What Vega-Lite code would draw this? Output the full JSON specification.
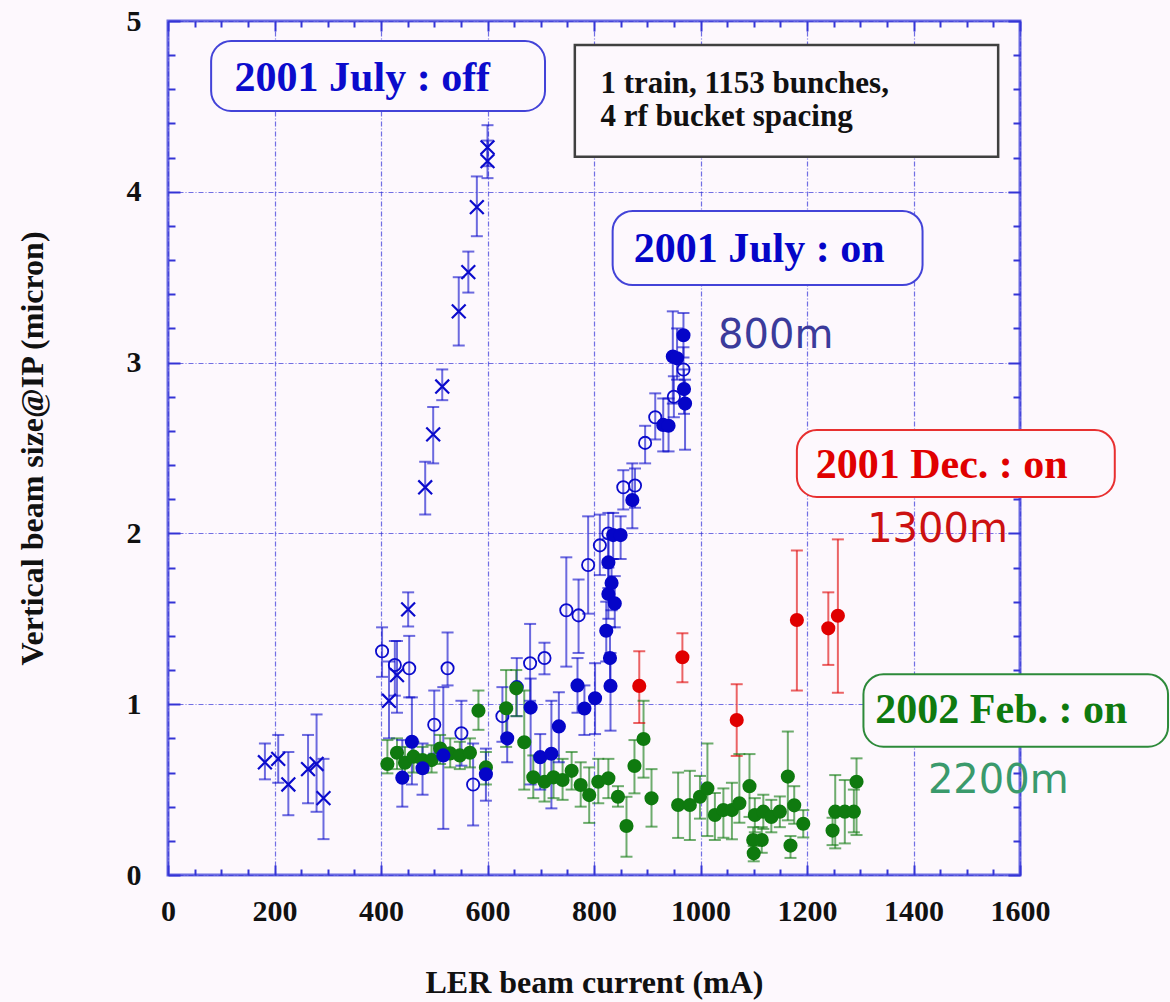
{
  "$schema": "https://vega.github.io/schema/vega-lite/v6.json",
  "width": 852,
  "height": 854,
  "autosize": "none",
  "padding": {"left": 168, "top": 21, "right": 150, "bottom": 127},
  "background": "#fdf8fd",
  "config": {
    "view": {"stroke": "#6b6be2", "strokeWidth": 3},
    "axis": {
      "domain": false,
      "grid": false,
      "labelFont": "Liberation Serif",
      "labelFontWeight": "bold",
      "labelFontSize": 30,
      "labelColor": "#111111",
      "titleFont": "Liberation Serif",
      "titleFontWeight": "bold",
      "titleFontSize": 32,
      "titleColor": "#111111",
      "tickColor": "#3434d6",
      "tickWidth": 2
    }
  },
  "datasets": {
    "pts": [
      {"set": "off", "I": 182, "s": 0.66, "lo": 0.56, "hi": 0.77},
      {"set": "off", "I": 207, "s": 0.68, "lo": 0.54, "hi": 0.82},
      {"set": "off", "I": 226, "s": 0.53, "lo": 0.35, "hi": 0.72},
      {"set": "off", "I": 263, "s": 0.62, "lo": 0.42, "hi": 0.82},
      {"set": "off", "I": 279, "s": 0.65, "lo": 0.37, "hi": 0.94},
      {"set": "off", "I": 292, "s": 0.45, "lo": 0.21, "hi": 0.68},
      {"set": "off", "I": 415, "s": 1.02, "lo": 0.80, "hi": 1.25},
      {"set": "off", "I": 430, "s": 1.17, "lo": 0.95, "hi": 1.37},
      {"set": "off", "I": 451, "s": 1.555, "lo": 1.455, "hi": 1.655},
      {"set": "off", "I": 483, "s": 2.27, "lo": 2.11, "hi": 2.42},
      {"set": "off", "I": 498, "s": 2.58, "lo": 2.41, "hi": 2.74},
      {"set": "off", "I": 515, "s": 2.86, "lo": 2.78, "hi": 2.96},
      {"set": "off", "I": 546, "s": 3.30, "lo": 3.10, "hi": 3.50},
      {"set": "off", "I": 564, "s": 3.53, "lo": 3.41, "hi": 3.65},
      {"set": "off", "I": 580, "s": 3.91, "lo": 3.74, "hi": 4.09},
      {"set": "off", "I": 600, "s": 4.26, "lo": 4.15, "hi": 4.39},
      {"set": "off", "I": 600, "s": 4.18, "lo": 4.08, "hi": 4.30},

      {"set": "open", "I": 402, "s": 1.31, "lo": 1.16, "hi": 1.45},
      {"set": "open", "I": 426, "s": 1.23, "lo": 1.05, "hi": 1.37},
      {"set": "open", "I": 453, "s": 1.21, "lo": 1.04, "hi": 1.40},
      {"set": "open", "I": 500, "s": 0.88, "lo": 0.71, "hi": 1.08},
      {"set": "open", "I": 525, "s": 1.21, "lo": 1.11, "hi": 1.42},
      {"set": "open", "I": 551, "s": 0.83, "lo": 0.64, "hi": 1.02},
      {"set": "open", "I": 573, "s": 0.53, "lo": 0.29, "hi": 0.77},
      {"set": "open", "I": 628, "s": 0.93, "lo": 0.78, "hi": 1.10},
      {"set": "open", "I": 655, "s": 1.10, "lo": 0.93, "hi": 1.27},
      {"set": "open", "I": 680, "s": 1.24, "lo": 1.02, "hi": 1.47},
      {"set": "open", "I": 707, "s": 1.27, "lo": 1.175, "hi": 1.36},
      {"set": "open", "I": 748, "s": 1.55, "lo": 1.22, "hi": 1.86},
      {"set": "open", "I": 771, "s": 1.52, "lo": 1.30, "hi": 1.73},
      {"set": "open", "I": 789, "s": 1.815, "lo": 1.53, "hi": 2.10},
      {"set": "open", "I": 811, "s": 1.93, "lo": 1.756, "hi": 2.11},
      {"set": "open", "I": 827, "s": 2.0, "lo": 1.85, "hi": 2.12},
      {"set": "open", "I": 855, "s": 2.27, "lo": 2.14, "hi": 2.37},
      {"set": "open", "I": 877, "s": 2.28, "lo": 2.15, "hi": 2.38},
      {"set": "open", "I": 896, "s": 2.53, "lo": 2.41, "hi": 2.63},
      {"set": "open", "I": 915, "s": 2.68, "lo": 2.55, "hi": 2.82},
      {"set": "open", "I": 950, "s": 2.80, "lo": 2.68, "hi": 2.92},
      {"set": "open", "I": 968, "s": 2.96, "lo": 2.83, "hi": 3.09},

      {"set": "feb", "I": 412, "s": 0.65, "lo": 0.595, "hi": 0.79},
      {"set": "feb", "I": 430, "s": 0.716, "lo": 0.62, "hi": 0.80},
      {"set": "feb", "I": 445, "s": 0.657, "lo": 0.58, "hi": 0.75},
      {"set": "feb", "I": 461, "s": 0.693, "lo": 0.60, "hi": 0.78},
      {"set": "feb", "I": 478, "s": 0.673, "lo": 0.60, "hi": 0.75},
      {"set": "feb", "I": 495, "s": 0.673, "lo": 0.60, "hi": 0.76},
      {"set": "feb", "I": 511, "s": 0.74, "lo": 0.65, "hi": 0.82},
      {"set": "feb", "I": 530, "s": 0.712, "lo": 0.63, "hi": 0.80},
      {"set": "feb", "I": 548, "s": 0.70, "lo": 0.62, "hi": 0.78},
      {"set": "feb", "I": 567, "s": 0.716, "lo": 0.63, "hi": 0.80},
      {"set": "feb", "I": 583, "s": 0.962, "lo": 0.85, "hi": 1.08},
      {"set": "feb", "I": 597, "s": 0.63, "lo": 0.53, "hi": 0.72},
      {"set": "feb", "I": 635, "s": 0.976, "lo": 0.75, "hi": 1.20},
      {"set": "feb", "I": 654, "s": 1.093, "lo": 0.93, "hi": 1.20},
      {"set": "feb", "I": 669, "s": 0.777, "lo": 0.50, "hi": 1.08},
      {"set": "feb", "I": 686, "s": 0.572, "lo": 0.45, "hi": 0.70},
      {"set": "feb", "I": 707, "s": 0.546, "lo": 0.43, "hi": 0.68},
      {"set": "feb", "I": 724, "s": 0.572, "lo": 0.45, "hi": 0.70},
      {"set": "feb", "I": 741, "s": 0.556, "lo": 0.44, "hi": 0.68},
      {"set": "feb", "I": 758, "s": 0.61, "lo": 0.50, "hi": 0.72},
      {"set": "feb", "I": 775, "s": 0.527, "lo": 0.40, "hi": 0.66},
      {"set": "feb", "I": 791, "s": 0.468, "lo": 0.305, "hi": 0.63},
      {"set": "feb", "I": 808, "s": 0.546, "lo": 0.42, "hi": 0.68},
      {"set": "feb", "I": 827, "s": 0.566, "lo": 0.45, "hi": 0.68},
      {"set": "feb", "I": 845, "s": 0.458, "lo": 0.40, "hi": 0.52},
      {"set": "feb", "I": 861, "s": 0.287, "lo": 0.107, "hi": 0.458},
      {"set": "feb", "I": 876, "s": 0.638, "lo": 0.478, "hi": 0.79},
      {"set": "feb", "I": 893, "s": 0.796, "lo": 0.57, "hi": 1.02},
      {"set": "feb", "I": 908, "s": 0.449, "lo": 0.283, "hi": 0.62},
      {"set": "feb", "I": 958, "s": 0.41, "lo": 0.217, "hi": 0.60},
      {"set": "feb", "I": 980, "s": 0.41, "lo": 0.205, "hi": 0.61},
      {"set": "feb", "I": 999, "s": 0.458, "lo": 0.33, "hi": 0.58},
      {"set": "feb", "I": 1013, "s": 0.507, "lo": 0.228, "hi": 0.77},
      {"set": "feb", "I": 1027, "s": 0.351, "lo": 0.205, "hi": 0.48},
      {"set": "feb", "I": 1043, "s": 0.38, "lo": 0.218, "hi": 0.507},
      {"set": "feb", "I": 1059, "s": 0.38, "lo": 0.209, "hi": 0.54},
      {"set": "feb", "I": 1073, "s": 0.42, "lo": 0.306, "hi": 0.708},
      {"set": "feb", "I": 1092, "s": 0.52, "lo": 0.34, "hi": 0.708},
      {"set": "feb", "I": 1099, "s": 0.205, "lo": 0.13, "hi": 0.28},
      {"set": "feb", "I": 1100, "s": 0.127, "lo": 0.08, "hi": 0.17},
      {"set": "feb", "I": 1102, "s": 0.351, "lo": 0.25, "hi": 0.45},
      {"set": "feb", "I": 1115, "s": 0.205, "lo": 0.13, "hi": 0.28},
      {"set": "feb", "I": 1118, "s": 0.371, "lo": 0.27, "hi": 0.47},
      {"set": "feb", "I": 1133, "s": 0.34, "lo": 0.25, "hi": 0.44},
      {"set": "feb", "I": 1149, "s": 0.371, "lo": 0.28, "hi": 0.46},
      {"set": "feb", "I": 1164, "s": 0.576, "lo": 0.32, "hi": 0.84},
      {"set": "feb", "I": 1169, "s": 0.172, "lo": 0.10, "hi": 0.228},
      {"set": "feb", "I": 1176, "s": 0.408, "lo": 0.30, "hi": 0.52},
      {"set": "feb", "I": 1193, "s": 0.30, "lo": 0.22, "hi": 0.38},
      {"set": "feb", "I": 1248, "s": 0.26, "lo": 0.175, "hi": 0.335},
      {"set": "feb", "I": 1253, "s": 0.371, "lo": 0.156, "hi": 0.585},
      {"set": "feb", "I": 1271, "s": 0.371, "lo": 0.185, "hi": 0.556},
      {"set": "feb", "I": 1288, "s": 0.371, "lo": 0.25, "hi": 0.50},
      {"set": "feb", "I": 1293, "s": 0.546, "lo": 0.234, "hi": 0.683},

      {"set": "dec", "I": 885, "s": 1.107, "lo": 0.89, "hi": 1.31},
      {"set": "dec", "I": 966, "s": 1.275, "lo": 1.128, "hi": 1.415},
      {"set": "dec", "I": 1068, "s": 0.907, "lo": 0.697, "hi": 1.117},
      {"set": "dec", "I": 1181, "s": 1.493, "lo": 1.08, "hi": 1.90},
      {"set": "dec", "I": 1240, "s": 1.444, "lo": 1.23, "hi": 1.655},
      {"set": "dec", "I": 1258, "s": 1.518, "lo": 1.067, "hi": 1.965},

      {"set": "on", "I": 440, "s": 0.57, "lo": 0.40, "hi": 0.79},
      {"set": "on", "I": 458, "s": 0.78, "lo": 0.53, "hi": 1.04},
      {"set": "on", "I": 478, "s": 0.625, "lo": 0.47, "hi": 0.77},
      {"set": "on", "I": 517, "s": 0.70, "lo": 0.27, "hi": 1.10},
      {"set": "on", "I": 597, "s": 0.59, "lo": 0.435, "hi": 0.74},
      {"set": "on", "I": 637, "s": 0.80, "lo": 0.66, "hi": 0.97},
      {"set": "on", "I": 681, "s": 0.98, "lo": 0.53, "hi": 1.15},
      {"set": "on", "I": 699, "s": 0.69, "lo": 0.50, "hi": 0.825},
      {"set": "on", "I": 720, "s": 0.71, "lo": 0.39, "hi": 1.02},
      {"set": "on", "I": 734, "s": 0.87, "lo": 0.66, "hi": 1.07},
      {"set": "on", "I": 769, "s": 1.11, "lo": 0.95, "hi": 1.27},
      {"set": "on", "I": 782, "s": 0.975, "lo": 0.82, "hi": 1.11},
      {"set": "on", "I": 802, "s": 1.035, "lo": 0.825, "hi": 1.24},
      {"set": "on", "I": 831, "s": 1.107, "lo": 0.845, "hi": 1.30},
      {"set": "on", "I": 830, "s": 1.27, "lo": 1.10, "hi": 1.45},
      {"set": "on", "I": 823, "s": 1.43, "lo": 1.25, "hi": 1.60},
      {"set": "on", "I": 827, "s": 1.645, "lo": 1.50, "hi": 1.80},
      {"set": "on", "I": 833, "s": 1.71, "lo": 1.55, "hi": 1.85},
      {"set": "on", "I": 839, "s": 1.59, "lo": 1.45, "hi": 1.75},
      {"set": "on", "I": 827, "s": 1.83, "lo": 1.68, "hi": 1.97},
      {"set": "on", "I": 836, "s": 1.99, "lo": 1.85, "hi": 2.12},
      {"set": "on", "I": 850, "s": 1.99, "lo": 1.85, "hi": 2.10},
      {"set": "on", "I": 872, "s": 2.195, "lo": 2.03, "hi": 2.41},
      {"set": "on", "I": 930, "s": 2.635, "lo": 2.48, "hi": 2.79},
      {"set": "on", "I": 940, "s": 2.63, "lo": 2.48, "hi": 2.79},
      {"set": "on", "I": 948, "s": 3.035, "lo": 2.76, "hi": 3.30},
      {"set": "on", "I": 956, "s": 3.025, "lo": 2.90, "hi": 3.20},
      {"set": "on", "I": 968, "s": 3.16, "lo": 3.03, "hi": 3.29},
      {"set": "on", "I": 969, "s": 2.845, "lo": 2.70, "hi": 2.96},
      {"set": "on", "I": 971, "s": 2.76, "lo": 2.49, "hi": 2.90}
    ],
    "boxes": [
      {"set": "off", "kind": "tag", "x0": 81, "x1": 708, "y0": 4.473, "y1": 4.883},
      {"set": "on", "kind": "tag", "x0": 835, "x1": 1417, "y0": 3.454, "y1": 3.888},
      {"set": "dec", "kind": "tag", "x0": 1181, "x1": 1778, "y0": 2.213, "y1": 2.605},
      {"set": "feb", "kind": "tag", "x0": 1306, "x1": 1878, "y0": 0.751, "y1": 1.175},
      {"set": "info", "kind": "info", "x0": 764, "x1": 1559, "y0": 4.205, "y1": 4.859}
    ],
    "labels": [
      {"set": "off", "kind": "tag", "label": "2001 July : off", "tx": 365, "ty": 4.592},
      {"set": "on", "kind": "tag", "label": "2001 July : on", "tx": 1110, "ty": 3.589},
      {"set": "dec", "kind": "tag", "label": "2001 Dec. : on", "tx": 1453, "ty": 2.326},
      {"set": "feb", "kind": "tag", "label": "2002 Feb. : on", "tx": 1565, "ty": 0.888},
      {"set": "800m", "kind": "dist", "label": "800m", "tx": 1033, "ty": 3.085},
      {"set": "1300m", "kind": "dist", "label": "1300m", "tx": 1313, "ty": 1.95},
      {"set": "2200m", "kind": "dist", "label": "2200m", "tx": 1427, "ty": 0.478},
      {"set": "info", "kind": "info", "label": "1 train, 1153 bunches,\n4 rf bucket spacing", "tx": 812, "ty": 4.577}
    ]
  },
  "layer": [
    {
      "data": {"name": "pts"},
      "mark": {"type": "rule", "strokeWidth": 2, "opacity": 0.6},
      "encoding": {
        "x": {
          "field": "I", "type": "quantitative",
          "scale": {"domain": [0, 1600], "nice": false, "zero": false},
          "axis": {
            "orient": "bottom",
            "values": [0, 200, 400, 600, 800, 1000, 1200, 1400, 1600],
            "format": "d",
            "tickSize": -10,
            "labelPadding": 31,
            "labelFlush": false,
            "labelOverlap": false,
            "grid": true,
            "gridColor": "#3535d8",
            "gridDash": [5, 2, 1, 2],
            "gridWidth": 1.2,
            "gridOpacity": 0.7,
            "title": "LER beam current (mA)",
            "titlePadding": 41
          }
        },
        "y": {
          "field": "lo", "type": "quantitative",
          "scale": {"domain": [0, 5], "nice": false, "zero": false},
          "axis": {
            "orient": "left",
            "values": [0, 1, 2, 3, 4, 5],
            "format": "d",
            "tickSize": -12,
            "labelPadding": 39,
            "labelFlush": false,
            "labelOverlap": false,
            "grid": true,
            "gridColor": "#3535d8",
            "gridDash": [5, 2, 1, 2],
            "gridWidth": 1.2,
            "gridOpacity": 0.7,
            "title": "Vertical beam size@IP (micron)",
            "titlePadding": 77
          }
        },
        "y2": {"field": "hi"},
        "color": {
          "field": "set", "type": "nominal", "legend": null,
          "scale": {
            "domain": ["off", "open", "on", "dec", "feb", "info", "800m", "1300m", "2200m"],
            "range": ["#0b0bcc", "#0b0bcc", "#0505c8", "#e00000", "#0f7a0f", "#111111", "#3b3b9b", "#cc1111", "#3a9a6c"]
          }
        }
      }
    },
    {
      "data": {"name": "pts"},
      "mark": {"type": "tick", "orient": "horizontal", "size": 12, "thickness": 2, "opacity": 0.6},
      "encoding": {
        "x": {
          "field": "I", "type": "quantitative",
          "scale": {"domain": [0, 1600], "nice": false, "zero": false},
          "axis": {
            "orient": "bottom",
            "values": [50, 100, 150, 250, 300, 350, 450, 500, 550, 650, 700, 750, 850, 900, 950, 1050, 1100, 1150, 1250, 1300, 1350, 1450, 1500, 1550],
            "tickSize": -6, "labels": false, "title": null
          }
        },
        "y": {
          "field": "lo", "type": "quantitative",
          "scale": {"domain": [0, 5], "nice": false, "zero": false},
          "axis": {
            "orient": "left",
            "values": [0.2, 0.4, 0.6, 0.8, 1.2, 1.4, 1.6, 1.8, 2.2, 2.4, 2.6, 2.8, 3.2, 3.4, 3.6, 3.8, 4.2, 4.4, 4.6, 4.8],
            "tickSize": -7, "labels": false, "title": null
          }
        },
        "color": {"field": "set", "type": "nominal", "legend": null}
      }
    },
    {
      "data": {"name": "pts"},
      "mark": {"type": "tick", "orient": "horizontal", "size": 12, "thickness": 2, "opacity": 0.6},
      "encoding": {
        "x": {
          "field": "I", "type": "quantitative",
          "scale": {"domain": [0, 1600], "nice": false, "zero": false},
          "axis": {
            "orient": "top",
            "values": [0, 200, 400, 600, 800, 1000, 1200, 1400, 1600],
            "tickSize": -10, "labels": false, "title": null
          }
        },
        "y": {
          "field": "hi", "type": "quantitative",
          "scale": {"domain": [0, 5], "nice": false, "zero": false},
          "axis": {
            "orient": "right",
            "values": [0, 1, 2, 3, 4, 5],
            "tickSize": -12, "labels": false, "title": null
          }
        },
        "color": {"field": "set", "type": "nominal", "legend": null}
      }
    },
    {
      "data": {"name": "pts"},
      "transform": [{"filter": "datum.set === 'off'"}],
      "mark": {"type": "point", "shape": "M-1,-1L1,1M-1,1L1,-1", "filled": false, "strokeWidth": 2.2, "size": 190, "opacity": 1},
      "encoding": {
        "x": {
          "field": "I", "type": "quantitative",
          "scale": {"domain": [0, 1600], "nice": false, "zero": false},
          "axis": {
            "orient": "top",
            "values": [50, 100, 150, 250, 300, 350, 450, 500, 550, 650, 700, 750, 850, 900, 950, 1050, 1100, 1150, 1250, 1300, 1350, 1450, 1500, 1550],
            "tickSize": -6, "labels": false, "title": null
          }
        },
        "y": {
          "field": "s", "type": "quantitative",
          "scale": {"domain": [0, 5], "nice": false, "zero": false},
          "axis": {
            "orient": "right",
            "values": [0.2, 0.4, 0.6, 0.8, 1.2, 1.4, 1.6, 1.8, 2.2, 2.4, 2.6, 2.8, 3.2, 3.4, 3.6, 3.8, 4.2, 4.4, 4.6, 4.8],
            "tickSize": -7, "labels": false, "title": null
          }
        },
        "color": {"field": "set", "type": "nominal", "legend": null}
      }
    },
    {
      "data": {"name": "pts"},
      "transform": [{"filter": "datum.set === 'open'"}],
      "mark": {"type": "point", "shape": "circle", "filled": false, "strokeWidth": 1.8, "size": 150, "opacity": 1},
      "encoding": {
        "x": {"field": "I", "type": "quantitative", "scale": {"domain": [0, 1600], "nice": false, "zero": false}, "axis": null},
        "y": {"field": "s", "type": "quantitative", "scale": {"domain": [0, 5], "nice": false, "zero": false}, "axis": null},
        "color": {"field": "set", "type": "nominal", "legend": null}
      }
    },
    {
      "data": {"name": "pts"},
      "transform": [{"filter": "datum.set === 'on' || datum.set === 'dec' || datum.set === 'feb'"}],
      "mark": {"type": "circle", "size": 200, "opacity": 1},
      "encoding": {
        "x": {"field": "I", "type": "quantitative", "scale": {"domain": [0, 1600], "nice": false, "zero": false}, "axis": null},
        "y": {"field": "s", "type": "quantitative", "scale": {"domain": [0, 5], "nice": false, "zero": false}, "axis": null},
        "color": {"field": "set", "type": "nominal", "legend": null}
      }
    },
    {
      "data": {"name": "boxes"},
      "transform": [{"filter": "datum.kind === 'tag'"}],
      "mark": {"type": "rect", "fill": "#fdf8fd", "strokeWidth": 2, "cornerRadius": 20},
      "encoding": {
        "x": {"field": "x0", "type": "quantitative", "scale": {"domain": [0, 1600], "nice": false, "zero": false}, "axis": null},
        "x2": {"field": "x1"},
        "y": {"field": "y0", "type": "quantitative", "scale": {"domain": [0, 5], "nice": false, "zero": false}, "axis": null},
        "y2": {"field": "y1"},
        "stroke": {
          "field": "set", "type": "nominal", "legend": null,
          "scale": {"domain": ["off", "on", "dec", "feb", "info"], "range": ["#4343d8", "#4343d8", "#e83030", "#2d8a3a", "#404040"]}
        }
      }
    },
    {
      "data": {"name": "boxes"},
      "transform": [{"filter": "datum.kind === 'info'"}],
      "mark": {"type": "rect", "fill": "#fdf8fd", "strokeWidth": 2.5},
      "encoding": {
        "x": {"field": "x0", "type": "quantitative", "scale": {"domain": [0, 1600], "nice": false, "zero": false}, "axis": null},
        "x2": {"field": "x1"},
        "y": {"field": "y0", "type": "quantitative", "scale": {"domain": [0, 5], "nice": false, "zero": false}, "axis": null},
        "y2": {"field": "y1"},
        "stroke": {"field": "set", "type": "nominal", "legend": null}
      }
    },
    {
      "data": {"name": "labels"},
      "transform": [{"filter": "datum.kind === 'tag'"}],
      "mark": {"type": "text", "font": "Liberation Serif", "fontWeight": "bold", "fontSize": 42, "align": "center", "baseline": "alphabetic"},
      "encoding": {
        "x": {"field": "tx", "type": "quantitative", "scale": {"domain": [0, 1600], "nice": false, "zero": false}, "axis": null},
        "y": {"field": "ty", "type": "quantitative", "scale": {"domain": [0, 5], "nice": false, "zero": false}, "axis": null},
        "text": {"field": "label"},
        "color": {"field": "set", "type": "nominal", "legend": null}
      }
    },
    {
      "data": {"name": "labels"},
      "transform": [{"filter": "datum.kind === 'dist'"}],
      "mark": {"type": "text", "font": "DejaVu Sans", "fontSize": 40, "align": "left", "baseline": "alphabetic"},
      "encoding": {
        "x": {"field": "tx", "type": "quantitative", "scale": {"domain": [0, 1600], "nice": false, "zero": false}, "axis": null},
        "y": {"field": "ty", "type": "quantitative", "scale": {"domain": [0, 5], "nice": false, "zero": false}, "axis": null},
        "text": {"field": "label"},
        "color": {"field": "set", "type": "nominal", "legend": null}
      }
    },
    {
      "data": {"name": "labels"},
      "transform": [{"filter": "datum.kind === 'info'"}],
      "mark": {"type": "text", "font": "Liberation Serif", "fontWeight": "bold", "fontSize": 31, "lineHeight": 33, "lineBreak": "\n", "align": "left", "baseline": "alphabetic"},
      "encoding": {
        "x": {"field": "tx", "type": "quantitative", "scale": {"domain": [0, 1600], "nice": false, "zero": false}, "axis": null},
        "y": {"field": "ty", "type": "quantitative", "scale": {"domain": [0, 5], "nice": false, "zero": false}, "axis": null},
        "text": {"field": "label"},
        "color": {"field": "set", "type": "nominal", "legend": null}
      }
    }
  ],
  "resolve": {"axis": {"x": "independent", "y": "independent"}}
}
